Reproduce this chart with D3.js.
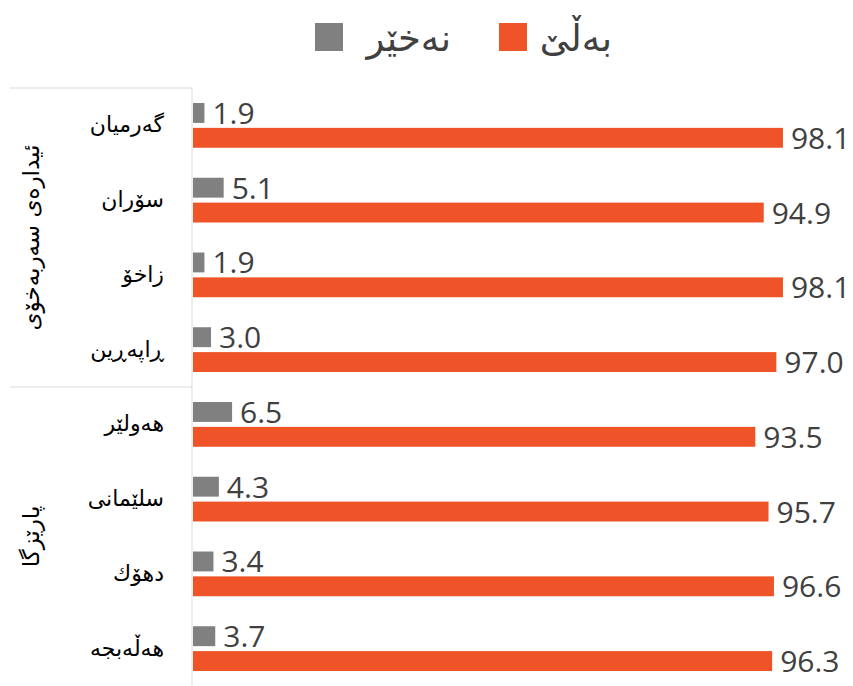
<!DOCTYPE html>
<html>
<head>
<meta charset="utf-8">
<script src="https://cdn.jsdelivr.net/npm/d3@7"></script>
<style>
  body { margin: 0; background: #fff; }
  text { font-family: "Open Sans", "DejaVu Sans", sans-serif; }
  text.ku { font-family: "DejaVu Sans", sans-serif; }
</style>
</head>
<body>
<div id="chart"></div>
<script>
// groups and categories (top to bottom)
const groups = ["ئیدارەی سەربەخۆی", "پارێزگا"];
const categories = ["گەرمیان", "سۆران", "زاخۆ", "ڕاپەڕین", "هەولێر", "سلێمانی", "دهۆك", "هەڵەبجە"];
const categoryGroup = [0, 0, 0, 0, 1, 1, 1, 1];
const noValues = [1.9, 5.1, 1.9, 3.0, 6.5, 4.3, 3.4, 3.7];
const yesValues = [98.1, 94.9, 98.1, 97.0, 93.5, 95.7, 96.6, 96.3];
const seriesNames = ["نەخێر", "بەڵێ"];
const colors = ["#808080", "#ee5428"];

const width = 853, height = 686;
const plotLeft = 192, plotTop = 88, plotBottom = 686;

const svg = d3.select("#chart").append("svg")
    .attr("width", width)
    .attr("height", height);

// scales
const x = d3.scaleLinear().domain([0, 100]).range([plotLeft, plotLeft + 601.4]);
const y = d3.scaleBand().domain(d3.range(categories.length)).range([plotTop, plotBottom]);
const inner = d3.scaleBand().domain([0, 1]).range([15, y.bandwidth() - 15]).paddingInner(0.2);

// group separators (horizontal lines in the label area)
const groupBounds = groups.map((g, gi) => {
    const idx = categoryGroup.map((c, i) => c === gi ? i : -1).filter(i => i >= 0);
    return { name: g, y0: y(idx[0]), y1: y(idx[idx.length - 1]) + y.bandwidth() };
});
svg.selectAll("line.sep")
    .data([plotTop, groupBounds[1].y0])
    .enter().append("line")
    .attr("x1", 10).attr("x2", plotLeft)
    .attr("y1", d => d).attr("y2", d => d)
    .attr("stroke", "#d9d9d9").attr("stroke-width", 1);

// vertical axis line
svg.append("line")
    .attr("x1", plotLeft).attr("x2", plotLeft)
    .attr("y1", plotTop).attr("y2", plotBottom)
    .attr("stroke", "#d9d9d9").attr("stroke-width", 1);

// group labels (rotated)
svg.selectAll("text.group")
    .data(groupBounds)
    .enter().append("text")
    .attr("class", "ku")
    .attr("transform", d => `translate(39,${(d.y0 + d.y1) / 2}) rotate(-90)`)
    .attr("text-anchor", "middle")
    .attr("font-size", 23)
    .attr("fill", "#000")
    .text(d => d.name);

// category labels
svg.selectAll("text.cat")
    .data(categories)
    .enter().append("text")
    .attr("class", "ku")
    .attr("x", 164)
    .attr("y", (d, i) => y(i) + y.bandwidth() / 2 + 7)
    .attr("text-anchor", "end")
    .attr("font-size", 22)
    .attr("fill", "#000")
    .text(d => d);

// bars
const series = [noValues, yesValues];
series.forEach((vals, si) => {
    svg.selectAll(`rect.s${si}`)
        .data(vals)
        .enter().append("rect")
        .attr("x", x(0) + 1)
        .attr("y", (d, i) => y(i) + inner(si))
        .attr("width", d => x(d) - x(0))
        .attr("height", inner.bandwidth())
        .attr("fill", colors[si]);

    svg.selectAll(`text.v${si}`)
        .data(vals)
        .enter().append("text")
        .attr("x", d => x(d) + 9)
        .attr("y", (d, i) => y(i) + inner(si) + inner.bandwidth() / 2 + 11)
        .attr("font-size", 30)
        .attr("fill", "#404040")
        .text(d => d.toFixed(1));
});

// legend
const legend = [
    { name: seriesNames[0], color: colors[0], box: 315, text: 451 },
    { name: seriesNames[1], color: colors[1], box: 499, text: 612 }
];
legend.forEach(l => {
    svg.append("rect")
        .attr("x", l.box).attr("y", 23)
        .attr("width", 28).attr("height", 28)
        .attr("fill", l.color);
    svg.append("text")
        .attr("class", "ku")
        .attr("x", l.text).attr("y", 51)
        .attr("text-anchor", "end")
        .attr("font-size", 37)
        .attr("fill", "#404040")
        .text(l.name);
});
</script>
</body>
</html>
